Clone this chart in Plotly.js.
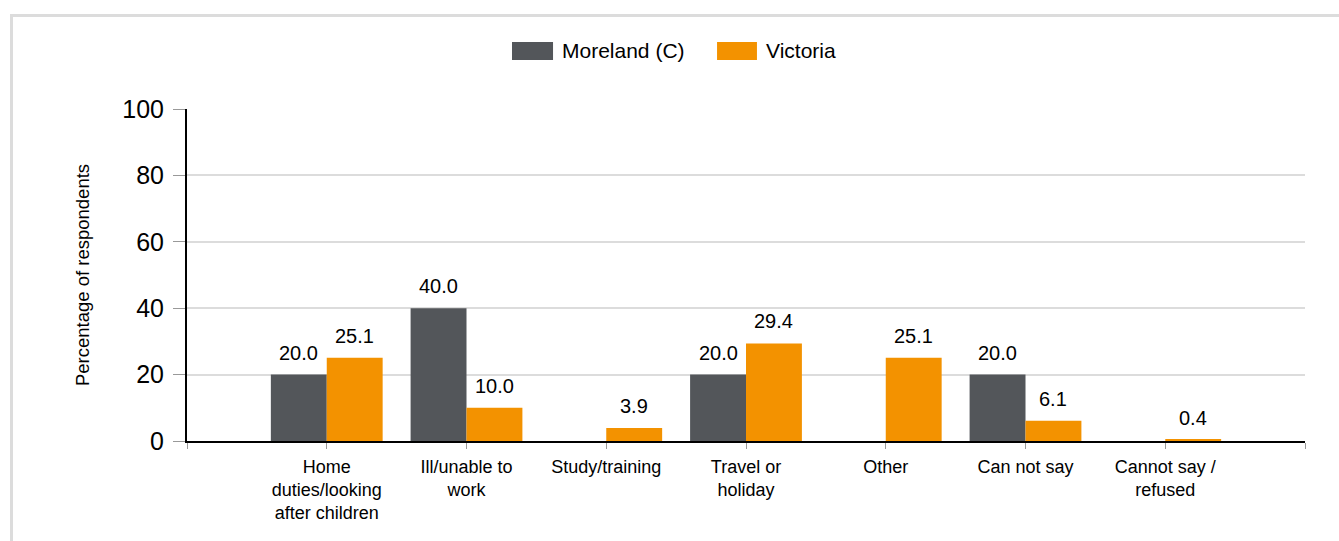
<!DOCTYPE html>
<html>
<head>
<meta charset="utf-8">
<script src="https://cdn.plot.ly/plotly-3.0.1.min.js"></script>
<style>
  html, body { margin: 0; padding: 0; background: #fff; }
  #frame { position: absolute; left: 10px; top: 14px; width: 1400px; height: 600px; border: 3px solid #dcdcdc; box-sizing: border-box; }
  #chart { position: absolute; left: 0; top: 0; width: 1339px; height: 541px; }
</style>
</head>
<body>
<div id="frame"></div>
<div id="chart"></div>
<script>
const categories = ["Home<br>duties/looking<br>after children", "Ill/unable to<br>work", "Study/training", "Travel or<br>holiday", "Other", "Can not say", "Cannot say /<br>refused"];
const seriesNames = ["Moreland (C)", "Victoria"];
const moreland = [20.0, 40.0, null, 20.0, null, 20.0, null];
const victoria = [25.1, 10.0, 3.9, 29.4, 25.1, 6.1, 0.4];
const yTicks = [0, 20, 40, 60, 80, 100];

const FONT = "Liberation Sans, Arial, sans-serif";
const colors = ["#53565a", "#f39200"];
const xs = categories.map((c, i) => i);
const barW = 0.4;

const traces = [moreland, victoria].map((vals, k) => ({
  type: "bar",
  x: xs,
  y: vals,
  name: seriesNames[k],
  marker: { color: colors[k], line: { width: 0 } },
  hoverinfo: "y+name",
  showlegend: false
}));

const annotations = [];
[moreland, victoria].forEach((vals, k) => {
  vals.forEach((v, i) => {
    if (v === null) return;
    annotations.push({
      x: i + (k === 0 ? -barW / 2 : barW / 2),
      y: v,
      xref: "x", yref: "y",
      text: v.toFixed(1),
      showarrow: false,
      yanchor: "bottom",
      yshift: 9,
      font: { family: FONT, size: 20, color: "#000" }
    });
  });
});

// manual legend
const shapes = [];
const legendSw = [[0.2907, 0.3274], [0.4741, 0.5098]];
const legendTx = [0.3336, 0.5161];
seriesNames.forEach((n, k) => {
  shapes.push({ type: "rect", xref: "paper", yref: "paper", x0: legendSw[k][0], x1: legendSw[k][1], y0: 1.1476, y1: 1.2018, fillcolor: colors[k], line: { width: 0 } });
  annotations.push({ xref: "paper", yref: "paper", x: legendTx[k], y: 1.1747, xanchor: "left", yanchor: "middle", text: n, showarrow: false, font: { family: FONT, size: 21, color: "#000" } });
});

const layout = {
  width: 1339, height: 541,
  margin: { l: 187, r: 34, t: 109, b: 100 },
  paper_bgcolor: "rgba(0,0,0,0)",
  plot_bgcolor: "rgba(0,0,0,0)",
  font: { family: FONT, color: "#000" },
  barmode: "group",
  bargap: 0.2,
  bargroupgap: 0,
  showlegend: false,
  xaxis: {
    type: "linear",
    range: [-1, 7],
    tickvals: [-1].concat(xs, [7]),
    ticktext: [""].concat(categories, [""]),
    ticks: "outside", ticklen: 6, tickwidth: 1, tickcolor: "#999",
    showgrid: false, zeroline: false,
    showline: true, linecolor: "#000", linewidth: 2,
    tickfont: { family: FONT, size: 18, color: "#000" },
    ticklabelstandoff: 2,
    fixedrange: true
  },
  yaxis: {
    range: [0, 100],
    tickvals: yTicks,
    ticks: "outside", ticklen: 12, tickwidth: 1, tickcolor: "#999",
    showgrid: true, gridcolor: "#dcdcdc", gridwidth: 2,
    zeroline: false,
    showline: true, linecolor: "#000", linewidth: 2,
    tickfont: { family: FONT, size: 25, color: "#000" },
    ticklabelstandoff: 4,
    title: { text: "Percentage of respondents", font: { family: FONT, size: 18.5, color: "#000" }, standoff: 28 },
    fixedrange: true
  },
  shapes: shapes,
  annotations: annotations
};

Plotly.newPlot("chart", traces, layout, { displayModeBar: false, responsive: false });
</script>
</body>
</html>
